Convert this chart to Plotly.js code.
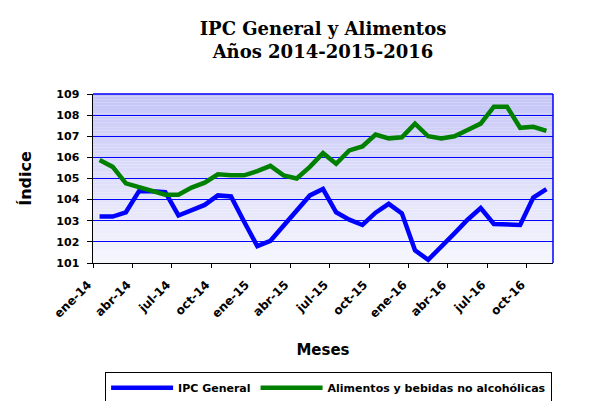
<!DOCTYPE html>
<html>
<head>
<meta charset="utf-8">
<script src="https://cdn.plot.ly/plotly-3.0.1.min.js"></script>
<style>html,body{margin:0;padding:0;background:#fff;}#chart{width:604px;height:401px;}</style>
</head>
<body>
<div id="chart"></div>
<script>
var months = ['ene-14','feb-14','mar-14','abr-14','may-14','jun-14','jul-14','ago-14','sep-14','oct-14','nov-14','dic-14',
              'ene-15','feb-15','mar-15','abr-15','may-15','jun-15','jul-15','ago-15','sep-15','oct-15','nov-15','dic-15',
              'ene-16','feb-16','mar-16','abr-16','may-16','jun-16','jul-16','ago-16','sep-16','oct-16','nov-16'];
var ipcGeneral = [103.2,103.2,103.4,104.4,104.4,104.35,103.25,103.5,103.75,104.2,104.15,102.95,
                  101.8,102.05,102.75,103.45,104.2,104.5,103.4,103.05,102.8,103.38,103.8,103.35,
                  101.6,101.15,101.75,102.4,103.05,103.6,102.85,102.8,102.8,104.1,104.5];
var alimentos = [105.87,105.55,104.77,104.58,104.38,104.23,104.23,104.57,104.8,105.2,105.15,105.15,
                 105.35,105.6,105.15,105.0,105.55,106.2,105.7,106.33,106.52,107.08,106.9,106.95,
                 107.6,107.0,106.9,107.0,107.3,107.6,108.4,108.4,107.4,107.45,107.25];
var seriesNames = ['IPC General', 'Alimentos y bebidas no alcohólicas'];
var titleText = 'IPC General y Alimentos<br>Años 2014-2015-2016';
var xTitle = 'Meses';
var yTitle = 'Índice';

var idx = months.map(function(m, i){ return i; });
var labelIdx = idx.filter(function(i){ return i % 3 === 0; });

var traces = [
  {x: idx, y: ipcGeneral, name: seriesNames[0], type: 'scatter', mode: 'lines',
   line: {color: '#0000ff', width: 4.5}, hoverinfo: 'skip'},
  {x: idx, y: alimentos, name: seriesNames[1], type: 'scatter', mode: 'lines',
   line: {color: '#008000', width: 4.5}, hoverinfo: 'skip'}
];

// gradient background bands
var shapes = [];
var nb = 60;
for (var b = 0; b < nb; b++) {
  var t = b / (nb - 1); // 0 bottom -> 1 top
  var r = Math.round(246 - t * 48), g = Math.round(246 - t * 48), bl = Math.round(253 - t * 6);
  shapes.push({type: 'rect', xref: 'paper', yref: 'paper', x0: 0, x1: 1, y0: b / nb, y1: (b + 1) / nb,
               fillcolor: 'rgb(' + r + ',' + g + ',' + bl + ')', line: {width: 0}, layer: 'below'});
}
shapes.push({type: 'line', xref: 'paper', yref: 'paper', x0: 1, x1: 1, y0: 0, y1: 1, line: {color: '#0000ff', width: 1.5}, layer: 'above'});
shapes.push({type: 'line', xref: 'paper', yref: 'paper', x0: 0, x1: 1, y0: 1, y1: 1, line: {color: '#0000ff', width: 1.5}, layer: 'above'});

var layout = {
  width: 604, height: 401, autosize: false,
  margin: {l: 93, r: 51, t: 94, b: 138},
  paper_bgcolor: '#ffffff', plot_bgcolor: '#ffffff',
  showlegend: true,
  title: {text: titleText, x: 0.5, xref: 'paper', xanchor: 'center', y: 0.913, yref: 'container', yanchor: 'top',
          font: {family: 'DejaVu Serif', size: 18, weight: 'bold', color: '#000'}},
  xaxis: {range: [-0.5, 34.5], showgrid: false, zeroline: false, showline: true, linecolor: '#000', linewidth: 1,
          ticks: 'outside', ticklen: 4, tickcolor: '#000', ticklabelstandoff: 5, ticklabelshift: -5,
          tickvals: labelIdx.map(function(i){ return i - 0.5; }),
          ticktext: labelIdx.map(function(i){ return months[i]; }),
          tickangle: -45, tickfont: {family: 'DejaVu Sans', size: 12, weight: 'bold', color: '#000'},
          title: {text: xTitle, standoff: 24, font: {family: 'DejaVu Sans', size: 15, weight: 'bold', color: '#000'}}},
  yaxis: {range: [101, 109], tick0: 101, dtick: 1, showgrid: true, gridcolor: '#0000ff', gridwidth: 1,
          zeroline: false, showline: true, linecolor: '#000', linewidth: 1.5,
          ticks: 'outside', ticklen: 5, tickcolor: '#000', ticklabelstandoff: 5,
          tickfont: {family: 'DejaVu Sans', size: 11, weight: 'bold', color: '#000'},
          title: {text: yTitle, standoff: 20, font: {family: 'DejaVu Sans', size: 16, weight: 'bold', color: '#000'}}},
  legend: {orientation: 'h', xref: 'container', yref: 'container', x: 0.174, xanchor: 'left', y: 0.072, yanchor: 'top',
           bordercolor: '#000', borderwidth: 1, bgcolor: '#fff', itemwidth: 62,
           font: {family: 'DejaVu Sans', size: 11, weight: 'bold', color: '#000'}},
  shapes: shapes
};

Plotly.newPlot('chart', traces, layout, {staticPlot: true, displayModeBar: false});
</script>
</body>
</html>
